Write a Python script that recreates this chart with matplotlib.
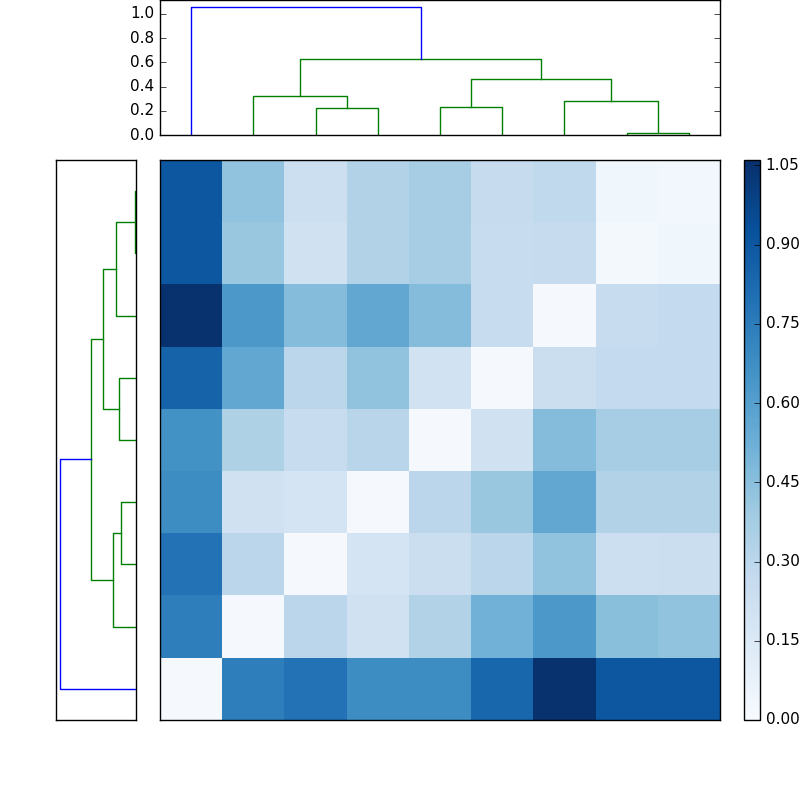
import matplotlib
matplotlib.use("Agg")
import matplotlib.pyplot as plt
import numpy as np

plt.style.use("classic")
plt.rcParams["xtick.labelsize"] = 11
plt.rcParams["ytick.labelsize"] = 11

# top dendrogram links (x in leaf units, leaves at 5, 15, ..., 85)
top_icoord = [
    [25, 25, 35, 35],
    [15, 15, 30, 30],
    [75, 75, 85, 85],
    [65, 65, 80, 80],
    [45, 45, 55, 55],
    [50, 50, 72.5, 72.5],
    [22.5, 22.5, 61.25, 61.25],
    [5, 5, 41.875, 41.875],
]
top_dcoord = [
    [0, 0.22, 0.22, 0],
    [0, 0.32, 0.32, 0.22],
    [0, 0.02, 0.02, 0],
    [0, 0.28, 0.28, 0.02],
    [0, 0.23, 0.23, 0],
    [0.23, 0.46, 0.46, 0.28],
    [0.32, 0.63, 0.63, 0.46],
    [0, 1.06, 1.06, 0.63],
]
top_colors = ["g", "g", "g", "g", "g", "g", "g", "b"]

# left dendrogram links (y in leaf units, distance along x)
left_icoord = [
    [85, 85, 75, 75],
    [80, 80, 65, 65],
    [55, 55, 45, 45],
    [72.5, 72.5, 50, 50],
    [35, 35, 25, 25],
    [30, 30, 15, 15],
    [61.25, 61.25, 22.5, 22.5],
    [41.875, 41.875, 5, 5],
]
left_dcoord = [
    [0, 1, 1, 0],
    [1, 20, 20, 0],
    [0, 17, 17, 0],
    [20, 33, 33, 17],
    [0, 15, 15, 0],
    [15, 23, 23, 0],
    [33, 45, 45, 23],
    [45, 76, 76, 0],
]
left_colors = ["g", "g", "g", "g", "g", "g", "g", "b"]

matrix = [
    [0.90, 0.43, 0.23, 0.33, 0.37, 0.26, 0.28, 0.04, 0.03],
    [0.90, 0.41, 0.21, 0.33, 0.37, 0.25, 0.26, 0.02, 0.04],
    [1.05, 0.63, 0.46, 0.56, 0.46, 0.25, 0.01, 0.25, 0.27],
    [0.85, 0.56, 0.30, 0.43, 0.20, 0.01, 0.24, 0.27, 0.27],
    [0.66, 0.34, 0.25, 0.31, 0.01, 0.21, 0.46, 0.37, 0.37],
    [0.68, 0.21, 0.19, 0.01, 0.30, 0.41, 0.56, 0.33, 0.33],
    [0.79, 0.30, 0.01, 0.19, 0.24, 0.30, 0.43, 0.23, 0.24],
    [0.74, 0.01, 0.30, 0.21, 0.33, 0.51, 0.63, 0.45, 0.43],
    [0.01, 0.74, 0.79, 0.68, 0.68, 0.84, 1.05, 0.90, 0.90],
]
cbar_ticks = [0.0, 0.15, 0.30, 0.45, 0.60, 0.75, 0.90, 1.05]

fig = plt.figure(figsize=(8, 8), dpi=100, facecolor="white")

# top dendrogram
ax_top = fig.add_axes([0.2, 0.83125, 0.7, 0.16875])
for xs, ys, c in zip(top_icoord, top_dcoord, top_colors):
    ax_top.plot(xs, ys, color=c, linewidth=1)
ax_top.set_xlim(0, 90)
ax_top.set_ylim(0, 1.115)
ax_top.set_xticks([])
ax_top.set_yticks(np.arange(0, 1.01, 0.2))
ax_top.set_yticklabels(["0.0", "0.2", "0.4", "0.6", "0.8", "1.0"])

# left dendrogram
ax_left = fig.add_axes([0.07, 0.1, 0.1, 0.7])
for ys, xs, c in zip(left_icoord, left_dcoord, left_colors):
    ax_left.plot(xs, ys, color=c, linewidth=1)
ax_left.set_xlim(80, 0)
ax_left.set_ylim(0, 90)
ax_left.set_xticks([])
ax_left.set_yticks([])

# heatmap
ax_mat = fig.add_axes([0.2, 0.1, 0.7, 0.7])
im = ax_mat.imshow(np.array(matrix), aspect="auto", origin="upper",
                   cmap="Blues", vmin=0, vmax=1.06, interpolation="nearest")
ax_mat.set_xticks([])
ax_mat.set_yticks([])

ax_cb = fig.add_axes([0.93, 0.1, 0.02, 0.7])
cb = fig.colorbar(im, cax=ax_cb, ticks=cbar_ticks)
cb.ax.set_yticklabels([f"{t:.2f}" for t in cbar_ticks])

fig.savefig("out.png", dpi=100, facecolor="white")
